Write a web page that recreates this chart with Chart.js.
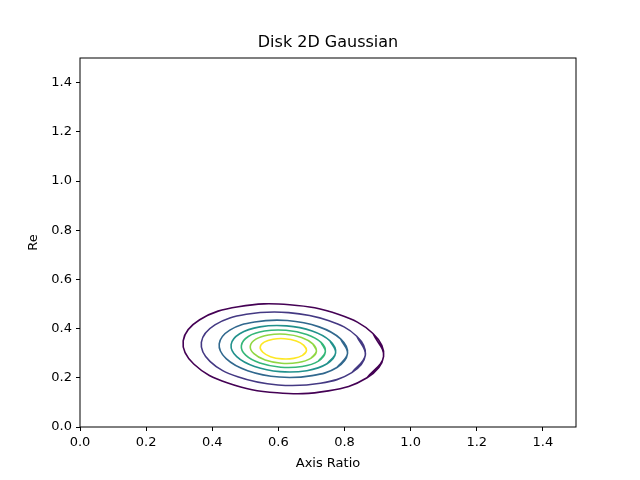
<!DOCTYPE html>
<html>
<head>
<meta charset="utf-8">
<script src="https://cdn.jsdelivr.net/npm/chart.js@4"></script>
<style>
  body { margin: 0; background: #fff; }
  #wrap { width: 640px; height: 480px; }
</style>
</head>
<body>
<div id="wrap"><canvas id="grafico"></canvas></div>
<script>
// contour lines, outer to inner, points as [axis ratio, Re]
const contorno1 = [[.918,.286],[.886,.380],[.783,.457],[.634,.497],[.479,.489],[.362,.436],[.312,.350],[.344,.256],[.447,.179],[.596,.139],[.751,.147],[.868,.200]];
const contorno2 = [[.863,.292],[.837,.369],[.753,.432],[.631,.465],[.503,.458],[.408,.415],[.367,.344],[.393,.267],[.477,.204],[.599,.171],[.727,.178],[.822,.221]];
const contorno3 = [[.809,.298],[.788,.358],[.723,.407],[.627,.433],[.528,.427],[.453,.394],[.421,.338],[.442,.278],[.507,.229],[.603,.203],[.702,.209],[.777,.242]];
const contorno4 = [[.773,.301],[.756,.350],[.702,.390],[.625,.411],[.544,.407],[.483,.379],[.457,.335],[.474,.286],[.528,.246],[.605,.225],[.686,.229],[.747,.257]];
const contorno5 = [[.742,.305],[.729,.344],[.686,.376],[.623,.393],[.558,.390],[.509,.368],[.488,.331],[.501,.292],[.544,.260],[.607,.243],[.672,.246],[.721,.268]];
const contorno6 = [[.715,.307],[.704,.338],[.670,.364],[.621,.377],[.570,.374],[.532,.357],[.515,.329],[.526,.298],[.560,.272],[.609,.259],[.660,.262],[.698,.279]];
const contorno7 = [[.685,.311],[.677,.332],[.654,.350],[.619,.359],[.584,.357],[.557,.345],[.545,.325],[.553,.304],[.576,.286],[.611,.277],[.646,.279],[.673,.291]];
const contornos = [contorno1, contorno2, contorno3, contorno4, contorno5, contorno6, contorno7];
const cores = ['#440154', '#443983', '#31688e', '#21918c', '#35b779', '#90d743', '#fde725'];
const ticksX = [0, 0.2, 0.4, 0.6, 0.8, 1.0, 1.2, 1.4];
const ticksY = [0, 0.2, 0.4, 0.6, 0.8, 1.0, 1.2, 1.4];
const titulo = 'Disk 2D Gaussian';

Chart.defaults.font.family = 'DejaVu Sans';
Chart.defaults.color = '#000';

// fecha cada curva: começa no último ponto e passa dois pontos do início,
// assim as pontas da spline ficam sobrepostas e sem bico
const datasets = contornos.map((c, i) => ({
    data: [c[c.length - 1]].concat(c, [c[0], c[1]]).map(p => ({ x: p[0], y: p[1] })),
    showLine: true,
    borderColor: cores[i],
    borderWidth: 1.6,
    pointRadius: 0,
    tension: 0.4,
    fill: false
}));

// moldura da área do gráfico e título centrado sobre ela
const moldura = {
    id: 'moldura',
    afterDraw(chart) {
        const a = chart.chartArea, ctx = chart.ctx;
        ctx.save();
        ctx.strokeStyle = '#000';
        ctx.lineWidth = 1;
        ctx.strokeRect(a.left, a.top, a.right - a.left, a.bottom - a.top);
        ctx.fillStyle = '#000';
        ctx.font = '16px "DejaVu Sans"';
        ctx.textAlign = 'center';
        ctx.textBaseline = 'middle';
        ctx.fillText(titulo, (a.left + a.right) / 2, 43);
        ctx.restore();
    }
};

const eixo = (ticks, texto, pad) => ({
    type: 'linear', min: 0, max: 1.5,
    afterBuildTicks: ax => { ax.ticks = ticks.map(v => ({ value: v })); },
    ticks: { font: { size: 13 }, callback: v => v.toFixed(1), padding: 4 },
    grid: { drawOnChartArea: false, tickLength: 4, color: '#000' },
    border: { display: false },
    title: { display: true, text: texto, font: { size: 13 }, padding: pad }
});

const eixoX = eixo(ticksX, 'Axis Ratio', { top: 0, bottom: 9 });
eixoX.afterFit = ax => { ax.height = 53; };
const eixoY = eixo(ticksY, 'Re', { top: 26, bottom: 0 });
eixoY.afterFit = ax => { ax.width = 80; };

new Chart(document.getElementById('grafico'), {
    type: 'scatter',
    data: { datasets },
    options: {
        responsive: true,
        maintainAspectRatio: false,
        animation: false,
        layout: { padding: { left: 0, right: 64, top: 58, bottom: 0 } },
        plugins: {
            legend: { display: false },
            tooltip: { enabled: false },
            title: { display: false }
        },
        scales: { x: eixoX, y: eixoY }
    },
    plugins: [moldura]
});
</script>
</body>
</html>
